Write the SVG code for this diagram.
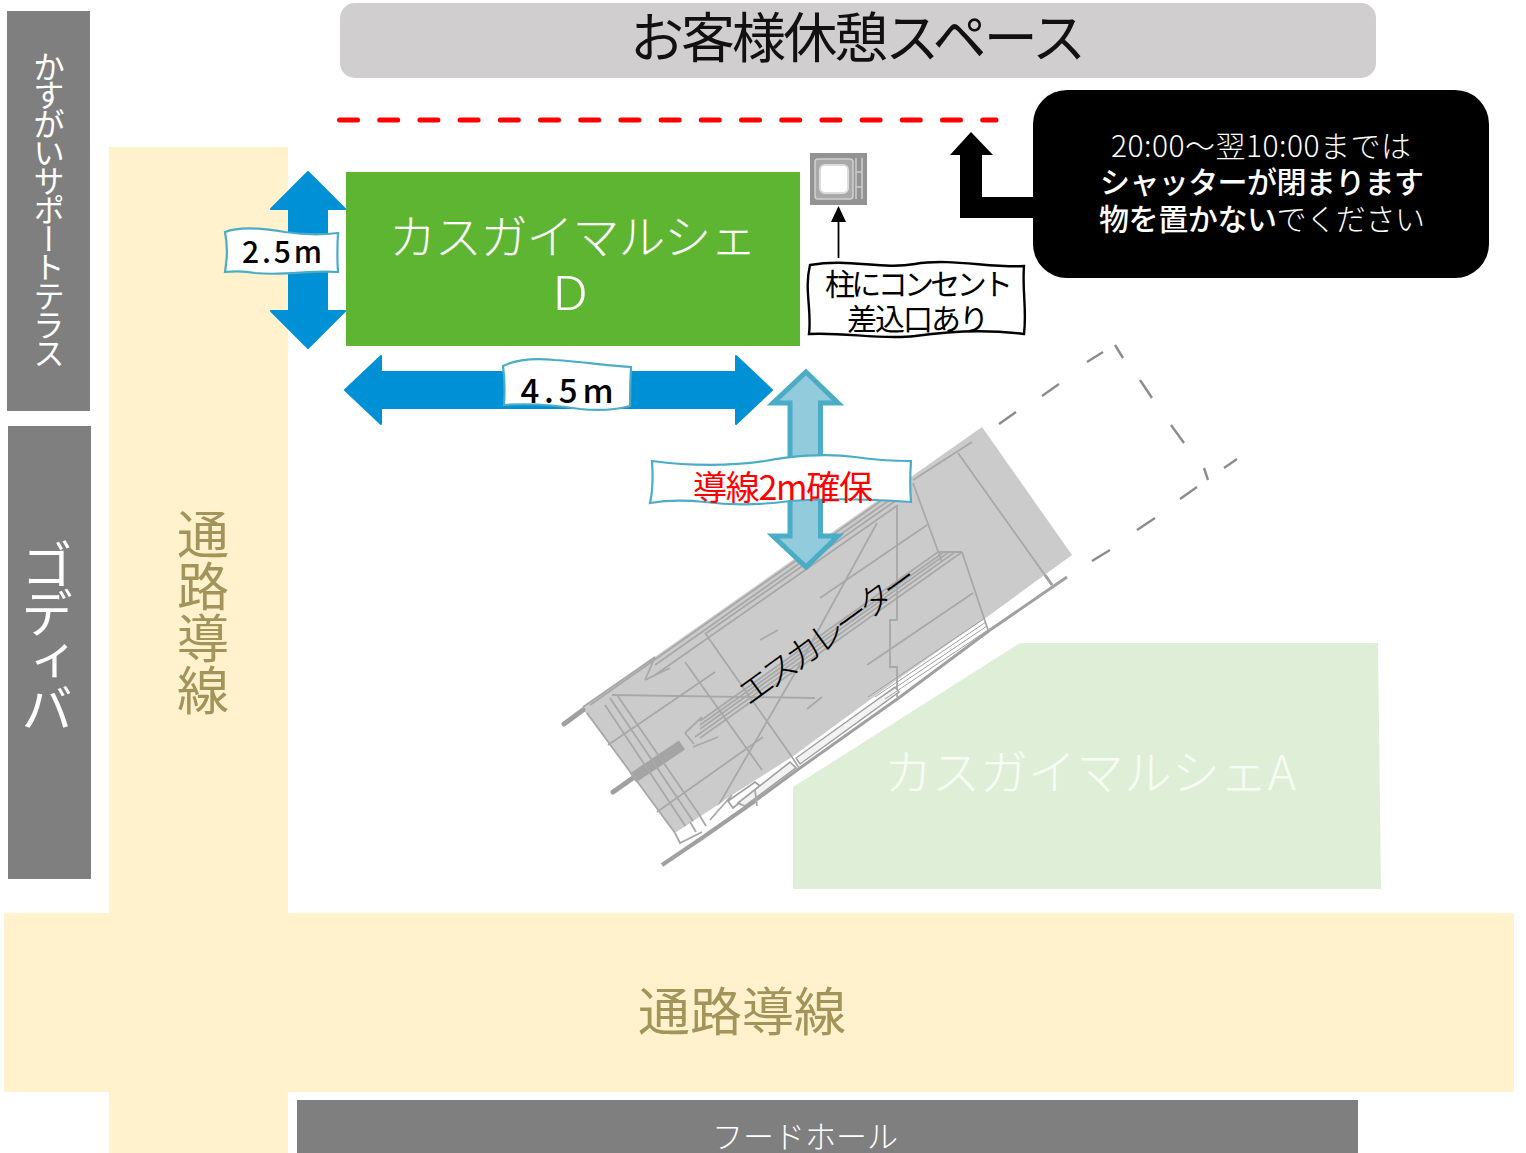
<svg xmlns="http://www.w3.org/2000/svg" width="1526" height="1153" viewBox="0 0 1526 1153">
<style>
text{font-family:"Noto Sans CJK JP","Noto Sans",sans-serif;text-anchor:middle}
.blue{fill:#0090d6;stroke:#0090d6;stroke-width:2;stroke-linejoin:round}
.lb{fill:#92cbdc;stroke:#4bacc6;stroke-width:5}
.tag{fill:#fff;stroke:#4bacc6;stroke-width:2.2}
.road{fill:#fff2cc}
.roadt{fill:#a3945a;font-size:52px}
.side{fill:#7f7f7f}
.es{fill:none;stroke:#a8a8a8;stroke-width:1.8}
.esf{fill:none;stroke:#a0a0a0;stroke-width:1}
.esd{fill:none;stroke:#a0a0a0;stroke-width:5;stroke-linecap:round}
.rail{fill:none;stroke:#a0a0a0;stroke-width:3}
.dash{fill:none;stroke:#8c8c8c;stroke-width:2.4}
</style>
<defs><filter id="soft" x="-5%" y="-5%" width="110%" height="110%"><feGaussianBlur stdDeviation="0.45"/></filter></defs>
<rect width="1526" height="1153" fill="#fff"/>
<g id="side-kasugai"><rect class="side" x="7" y="11" width="83" height="400"/><text x="49" y="210" fill="#fff" font-size="31.5" style="writing-mode:vertical-rl;dominant-baseline:central" textLength="318">かすがいサポートテラス</text></g>
<g id="side-godiva"><rect class="side" x="8" y="426" width="83" height="453"/><text x="47" y="637" fill="#fff" font-size="52" style="writing-mode:vertical-rl;dominant-baseline:central" textLength="195">ゴディバ</text></g>
<g id="road-v"><rect class="road" x="109" y="147" width="179" height="1006"/><text class="roadt" x="203" y="612" style="writing-mode:vertical-rl;dominant-baseline:central">通路導線</text></g>
<g id="road-h"><rect class="road" x="4" y="913" width="1510" height="179"/><text class="roadt" x="742" y="1031">通路導線</text></g>
<g id="rest"><rect x="340" y="3" width="1036" height="75" rx="15" fill="#d0cece"/><text x="858" y="58" font-size="54" fill="#111" font-weight="400" textLength="456">お客様休憩スペース</text></g>
<g id="foodhall"><rect class="side" x="297" y="1100" width="1061" height="53"/><text x="805" y="1148" font-size="31" fill="#fff" font-weight="300">フードホール</text></g>
<g id="escalator">
<path d="M582 708L982 427L1072 555L987 617L897 680L792 757L732 795L718 805L675 833Z" fill="#cbcbcb"/>
<g filter="url(#soft)">
<path class="esd" d="M564 724L583 710M613 792L633 778"/>
<path d="M633 778L682 745" fill="none" stroke="#a4a4a4" stroke-width="11"/>
<path class="es" d="M583 707L655 657M590 705L898 489M655 665L898 494M705 634L898 499M655 675L898 505M913 480L972 442M645 680L670 668M645 680L655 657"/>
<path class="es" d="M938 552L700 721M944 552L700 725M949 552L700 729M955 552L695 737M962 552L700 738M938 552H962M685 733L702 717M693 747L718 737M685 733L694 744"/>
<path class="es" d="M958 453L1052 585M913 483L942 562M962 552L988 630M897 507V620H890V667H897V697M587 713L675 833M605 705L688 830M610 698L697 827M617 695L705 823M685 662L762 770M705 633L792 757M608 745L715 672M657 812L763 737M612 695L815 698M710 820L795 673L820 627L877 523M820 598L927 525M867 665L973 593M807 709L822 697M760 640L778 630"/>
<path class="rail" d="M990 630L1067 577M1045 575L1052 585"/>
<path d="M675 833L718 805L732 795L712 820L702 832L680 843Z" fill="#fff"/>
<path class="es" d="M675 833L680 843L702 832M690 822L696 832M700 816L706 826M710 820L732 795"/>
<path class="rail" style="stroke-width:4" d="M662 865L702 838L755 801"/>
<path class="rail" d="M755 801L800 768L900 697L990 630"/>
<path d="M728 801L755 782L760 786L733 808Z" fill="#fff" stroke="#a0a0a0" stroke-width="1.8"/>
<path d="M738 803L790 762L796 768L745 806Z" fill="#f2f2f2" stroke="#a0a0a0" stroke-width="1.6"/>
<path d="M796 758L895 687L899 692L800 764Z" fill="#f2f2f2" stroke="#a0a0a0" stroke-width="1.4"/>
<path class="es" d="M792 757L799 768M755 790L757 806"/>
<path class="esf" d="M868 697L985 618M875 697L986 622M880 698L987 626M885 699L988 630"/>
</g>
<path class="dash" d="M999 424L1016 412M1042 396L1059 384M1087 362L1103 352M1115 345L1123 358M1140 380L1152 398M1171 425L1184 443M1204 468L1208 480M1092 561L1110 550M1137 530L1155 518M1180 499L1197 487M1224 468L1237 459"/>
<text x="835" y="645" transform="rotate(-36 835 645)" font-size="35" fill="#000" font-weight="300" textLength="212">エスカレーター</text>
</g>
<g id="marche-a"><path d="M1020 643H1378L1381 889H793V787Z" fill="#dfefd7"/><text x="1090" y="790" font-size="48" fill="#f8fcf6" font-weight="300" textLength="412">カスガイマルシェA</text></g>
<g id="marche-d"><rect x="346" y="172" width="454" height="174" fill="#5eb531"/><text x="573" y="254" font-size="47" fill="#fff" font-weight="300" textLength="368">カスガイマルシェ</text><text x="570" y="310" font-size="47" fill="#fff" font-weight="300" textLength="36" lengthAdjust="spacingAndGlyphs">D</text></g>
<g id="outlet"><rect x="810" y="153" width="57" height="52" fill="#939393"/><rect x="815" y="159" width="38" height="40" rx="3" fill="#a9a9a9" stroke="#d0d0d0" stroke-width="1.5"/><rect x="820" y="165" width="28" height="28" rx="5" fill="#fff" stroke="#dcdcdc" stroke-width="2"/><path d="M856 158V199M862 158V199M856 172H862M856 187H862" stroke="#cfcfcf" stroke-width="1.5" fill="none"/></g>
<g id="connectors">
<path d="M838.5 258V221" stroke="#000" stroke-width="1.8"/><path d="M838.5 206L846 222H831Z" fill="#000"/>
<path d="M971 132L993 155H982V197H1040V218H960V155H950Z" fill="#000"/>
<path d="M339.5 120H996" fill="none" stroke="#f00" stroke-width="5" stroke-linecap="round" stroke-dasharray="18 22.2"/>
<path class="blue" d="M308 172L345 209H327V311H345L308 348L271 311H289V209H271Z"/>
<path class="blue" d="M345 390L381 356V372H736V356L772 390L736 424V408H381V424Z"/>
<path class="lb" d="M806 372L838 403H820.5V536H838L806 567L773 536H790V403H773Z"/>
</g>
<g id="notice"><rect x="1033" y="90" width="456" height="188" rx="34" fill="#000"/>
<g fill="#fff" font-size="30"><text x="1261" y="157" font-weight="300" textLength="300">20:00～翌10:00までは</text><text x="1262" y="193" font-weight="500" textLength="324">シャッターが閉まります</text><text x="1262" y="230" font-weight="400" textLength="326"><tspan font-weight="500">物を置かない</tspan><tspan font-weight="300">でください</tspan></text></g></g>
<g id="note-outlet"><path d="M810 265C850 258 880 270 915 264C950 258 990 268 1024 266C1022 290 1027 310 1024 334C985 329 950 331 915 336C880 340 845 332 809 334C812 310 804 290 810 265Z" fill="#fff" stroke="#000" stroke-width="2.4"/><text x="919" y="295" font-size="30" fill="#000" font-weight="400" textLength="188">柱にコンセント</text><text x="918" y="330" font-size="30" fill="#000" font-weight="400" textLength="142">差込口あり</text></g>
<g id="tag-25"><path class="tag" d="M225 232C240 226 262 228 285 232C305 235 322 235 338 233C337 250 337 258 338 272C310 270 285 276 255 273C245 271 235 271 225 272C227 258 228 248 225 232Z"/><text x="282" y="263" font-size="30" font-weight="500" fill="#000" textLength="80">2.5m</text></g>
<g id="tag-45"><path class="tag" d="M503 366C515 360 535 358 555 360C585 362 610 366 631 367C630 385 630 395 630 406C615 410 600 411 580 409C555 405 530 403 504 405C505 390 505 380 503 366Z"/><text x="567" y="403" font-size="33" font-weight="500" fill="#000" textLength="93">4.5m</text></g>
<g id="tag-2m"><path class="tag" d="M652 461C690 466 730 466 765 461C790 456 825 453 855 457C875 460 893 461 911 461C910 475 910 490 911 502C870 499 830 498 790 501C760 505 735 506 705 502C685 500 668 500 650 503C653 490 653 475 652 461Z"/><text x="783" y="500" font-size="34" fill="#f00" font-weight="400" textLength="180">導線2m確保</text></g>
</svg>
